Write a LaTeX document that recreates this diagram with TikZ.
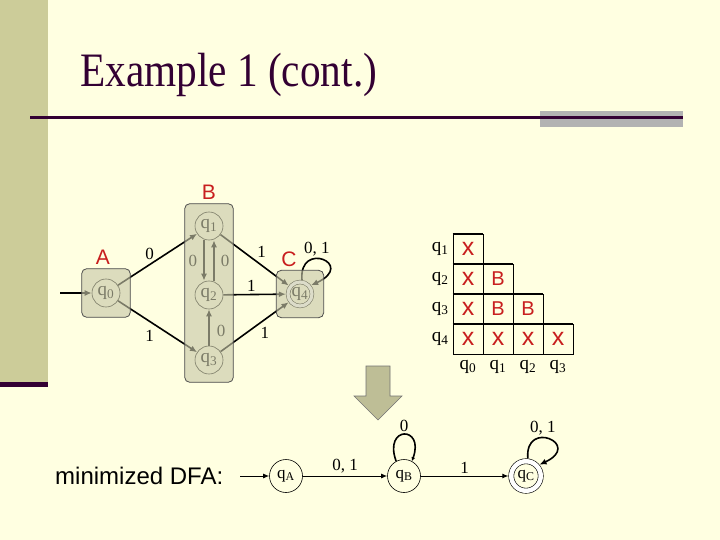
\documentclass[tikz,border=0pt]{standalone}
\usepackage{fontspec}
\setmainfont{Liberation Serif}
\setsansfont{Liberation Sans}
\usetikzlibrary{arrows.meta,positioning,fit}

\definecolor{slidebg}{RGB}{255,255,225}
\definecolor{stripe}{RGB}{204,204,153}
\definecolor{titleink}{RGB}{51,0,51}
\definecolor{boxfill}{RGB}{200,200,168}
\definecolor{arrowfill}{RGB}{190,190,150}
\definecolor{setred}{RGB}{200,30,30}
\definecolor{rulegray}{RGB}{178,178,178}

\newcommand\px[1]{\fontsize{#1}{#1}\selectfont}
\newcommand\qsub[1]{q\textsubscript{#1}}
\newcommand\markx{{\px{25}x}}

\tikzset{
  state/.style={circle,draw,line width=0.6pt,minimum size=28pt,inner sep=0pt,font=\px{19}},
  smallstate/.style={circle,draw,line width=0.6pt,minimum size=33pt,inner sep=0pt,font=\px{17}},
  acceptst/.style={double,double distance=#1,outer sep=0.5*#1+0.6pt},
  trans/.style={line width=1.6pt,-{Latex[length=7pt,width=6pt]}},
  thintrans/.style={line width=1pt,-{Latex[length=6pt,width=5pt]}},
  lab/.style={font=\px{17},inner sep=2pt},
  setbox/.style={draw=black!70,line width=0.8pt,fill=boxfill,fill opacity=0.62,rounded corners=5pt},
  setname/.style={font=\sffamily\px{21},text=setred},
  cell/.style={draw,line width=0.6pt,minimum size=30pt,inner sep=0pt,font=\sffamily\px{20},text=setred},
}

\begin{document}
\begin{tikzpicture}[x=1pt,y=-1pt]
\useasboundingbox (0,0) rectangle (720,540);
% slide
\fill[slidebg] (0,0) rectangle (720,540);
\fill[stripe] (0,0) rectangle (48,382);
\fill[titleink] (0,382) rectangle (48,387);
\node[anchor=base west,inner sep=0pt,text=titleink,font=\px{48}] (title) at (80,87) {\scalebox{0.86}[1]{Example 1 (cont.)}};
\fill[rulegray] (540,111) rectangle (683,127);
\draw[titleink,line width=3pt] (30,118) -- (683,118);

% DFA with its sets
\node[state] (q0) at (106,293) {\qsub{0}};
\node[state] (q1) at (209,226) {\qsub{1}};
\node[state] (q2) at (209,295) {\qsub{2}};
\node[state] (q3) at (209,360) {\qsub{3}};
\node[state,acceptst=3.2pt,minimum size=24pt] (q4) at (300,294) {\qsub{4}};
\coordinate (start) at (60,293);

\draw[trans] (start) -- (q0);
\draw[trans] (q0) -- node[lab,above=2pt,pos=.4] {0} (q1);
\draw[trans] (q0) -- node[lab,below=6pt,pos=.4] {1} (q3);
\draw[trans] ([xshift=-5pt]q1.south) -- node[lab,left=4pt] {0} ([xshift=-5pt]q2.north);
\draw[trans] ([xshift=5pt]q2.north) -- node[lab,right=4pt] {0} ([xshift=5pt]q1.south);
\draw[trans] (q3) -- node[lab,right=5pt,pos=.4] {0} (q2);
\draw[trans] (q1) -- node[lab,above right,pos=.5] {1} (q4);
\draw[trans] (q2) -- node[lab,above,pos=.45] {1} (q4);
\draw[trans] (q3) -- node[lab,below right,pos=.55] {1} (q4);
\draw[trans] (q4.82) .. controls +(-95:40) and +(-25:50) .. node[lab,pos=.4,above] {0, 1} (q4.38);

\node[setbox,fit=(q0),inner sep=10pt] (A) {};
\node[setbox,fit=(q1)(q3),inner xsep=10pt,inner ysep=8pt] (B) {};
\node[setbox,fit=(q4),inner sep=9.5pt] (C) {};
\node[setname,above=0pt of A,xshift=-3pt] {A};
\node[setname,above=0pt of B] {B};
\node[setname,above=0pt of C,xshift=-11pt] {C};

% table of marked pairs
\foreach \r/\marks in {1/{\markx},2/{\markx,B},3/{\markx,B,B},4/{\markx,\markx,\markx,\markx}}
  \foreach \m [count=\c from 0] in \marks
    \node[cell] (c\r\c) at (468+30*\c,219+30*\r) {\m};
\foreach \r/\l in {1/0,2/1,3/2,4/3}
  \draw[line width=1.6pt] (c\r0.north west) -- (c\r\l.north east);
\foreach \r in {1,...,4}
  \node[lab,font=\px{19},left=2pt of c\r0] {\qsub{\r}};
\foreach \c in {0,...,3}
  \node[lab,font=\px{19},below=4pt of c4\c] {\qsub{\c}};

% down arrow
\draw[fill=arrowfill,draw=black!55,line width=0.6pt]
  (366,366) -- (390,366) -- (390,396) -- (402,396) -- (378,420) -- (354,396) -- (366,396) -- cycle;

% minimized DFA
\node[font=\sffamily\px{24},anchor=west,inner sep=0pt] (mini) at (55,476) {minimized DFA:};
\node[smallstate] (qA) at (286,476) {\qsub{A}};
\node[smallstate] (qB) at (404,476) {\qsub{B}};
\node[smallstate,acceptst=4.5pt,minimum size=29.5pt] (qC) at (526,476) {\qsub{C}};
\coordinate (init) at (240,476);
\draw[thintrans] (init) -- (qA);
\draw[thintrans] (qA) -- node[lab,above] {0, 1} (qB);
\draw[thintrans] (qB) -- node[lab,above] {1} (qC);
\draw[trans,-{Latex[length=4pt,width=4pt]}] (qB.118) .. controls +(-110:38) and +(-70:38) .. node[lab,above] {0} (qB.62);
\draw[trans] (qC.84) .. controls +(-95:40) and +(-25:48) .. node[lab,pos=.4,above] {0, 1} (qC.40);
\end{tikzpicture}
\end{document}
